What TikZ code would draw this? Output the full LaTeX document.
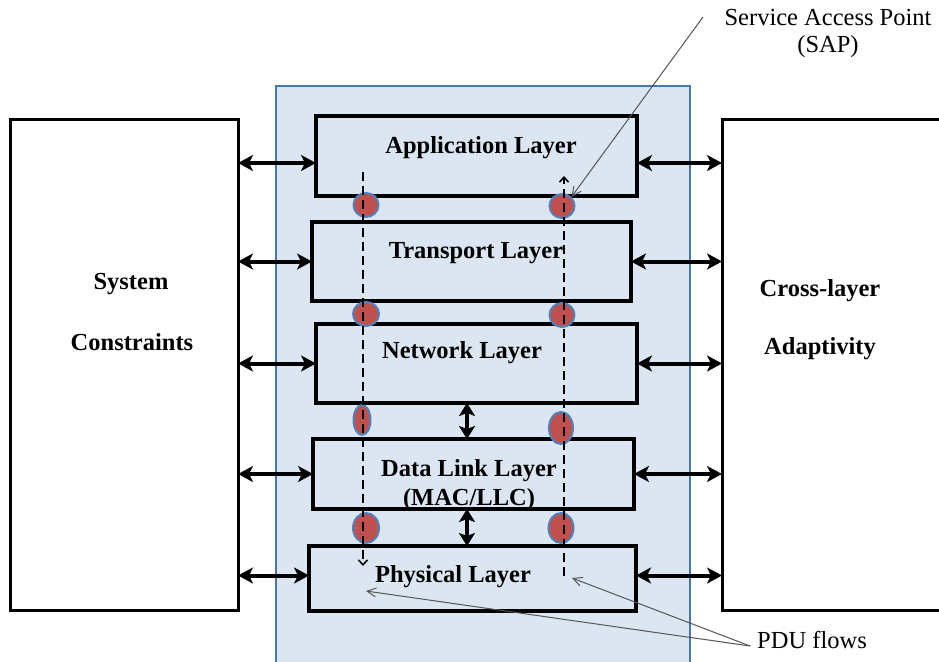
\documentclass[tikz,border=0pt]{standalone}
\usepackage{fontspec}
\setmainfont{Liberation Serif}
\usetikzlibrary{arrows.meta,shapes.geometric}
\definecolor{panelfill}{HTML}{DCE6F2}
\definecolor{panelline}{HTML}{4A76AE}
\definecolor{sapred}{HTML}{C0504D}
\definecolor{sapblue}{HTML}{4F81BD}
\definecolor{pointer}{HTML}{555555}
\begin{document}
\begin{tikzpicture}[x=1pt,y=-1pt,
  sidebox/.style={draw, line width=3pt, minimum width=228pt, minimum height=491pt, inner sep=0pt, outer sep=0pt},
  layerbox/.style={draw, line width=3.5pt, fill=panelfill, inner sep=0pt, outer sep=0pt},
  lbl/.style={font=\fontsize{24.5}{27}\selectfont, inner sep=0pt},
  blbl/.style={font=\bfseries\fontsize{24.5}{27}\selectfont, inner sep=0pt},
  sap/.style={ellipse, draw=sapblue, fill=sapred, line width=2pt, inner sep=0pt},
  hdbl/.style={line width=4pt, {Stealth[length=15pt,width=16pt,inset=4pt]}-{Stealth[length=15pt,width=16pt,inset=4pt]}},
  vdbl/.style={line width=4pt, {Stealth[length=13pt,width=16pt,inset=3pt]}-{Stealth[length=13pt,width=16pt,inset=3pt]}},
  flow/.style={dash pattern=on 9pt off 5pt, line width=1.3pt, -{Straight Barb[length=5pt,width=9pt,line width=1.5pt]}},
  note/.style={pointer, line width=1pt, -{Straight Barb[length=9pt,width=9pt]}}
]
\clip (0,0) rectangle (939,661);
\fill[white] (0,0) rectangle (939,661);

% side boxes
\node[sidebox] (sys) at (124,364.5) {};
\node[sidebox, minimum width=238pt] (cla) at (841,364.5) {};

% panel
\node[draw=panelline, fill=panelfill, line width=2pt, minimum width=414pt, minimum height=594pt, inner sep=0pt, outer sep=0pt] (panel) at (483,383) {};

% layers
\node[layerbox, minimum width=321pt, minimum height=80pt] (app) at (476.5,156) {};
\node[layerbox, minimum width=319pt, minimum height=79pt] (trn) at (471.5,261.5) {};
\node[layerbox, minimum width=321pt, minimum height=79pt] (net) at (476.5,363.5) {};
\node[layerbox, minimum width=321pt, minimum height=70pt] (dll) at (473.5,474) {};
\node[layerbox, minimum width=327pt, minimum height=65pt] (phy) at (472.5,578.5) {};

\node[blbl] (appt) at (481,148) {Application Layer};
\node[blbl] (trnt) at (476,253) {Transport Layer};
\node[blbl] (nett) at (462,353) {Network Layer};
\node[blbl] (dllt) at (469,471) {Data Link Layer};
\node[blbl] (dllt2) at (469,500) {(MAC/LLC)};
\node[blbl] (phyt) at (453,577) {Physical Layer};

% side labels
\node[blbl] (syst) at (131,284) {System};
\node[blbl] (syst2) at (132,342) {Constraints};
\node[blbl] (clat) at (820,291) {Cross-layer};
\node[blbl] (clat2) at (820,349) {Adaptivity};

% arrow attachment points
\coordinate (appW) at ([yshift=-7pt]app.west);
\coordinate (appE) at ([yshift=-7pt]app.east);
\coordinate (phyW) at ([yshift=3pt]phy.west);
\coordinate (phyE) at ([yshift=3pt]phy.east);

% horizontal double arrows
\draw[hdbl] (sys.east |- appW) -- (appW);
\draw[hdbl] (sys.east |- trn.west) -- (trn.west);
\draw[hdbl] (sys.east |- net.west) -- (net.west);
\draw[hdbl] (sys.east |- dll.west) -- (dll.west);
\draw[hdbl] (sys.east |- phyW) -- (phyW);

\draw[hdbl] (appE) -- (cla.west |- appE);
\draw[hdbl] (trn.east) -- (cla.west |- trn.east);
\draw[hdbl] (net.east) -- (cla.west |- net.east);
\draw[hdbl] (dll.east) -- (cla.west |- dll.east);
\draw[hdbl] (phyE) -- (cla.west |- phyE);

% vertical double arrows
\coordinate (vx) at (467,0);
\draw[vdbl] (vx |- net.south) -- (vx |- dll.north);
\draw[vdbl] (vx |- dll.south) -- (vx |- phy.north);

% SAPs
\node[sap, minimum width=25pt, minimum height=24pt] (sL1) at (366,205) {};
\node[sap, minimum width=25pt, minimum height=24pt] (sR1) at (562,206) {};
\node[sap, minimum width=26pt, minimum height=24pt] (sL2) at (366,314) {};
\node[sap, minimum width=25pt, minimum height=24pt] (sR2) at (562,315) {};
\node[sap, minimum width=17pt, minimum height=30pt] (sL3) at (362,420) {};
\node[sap, minimum width=24pt, minimum height=32pt] (sR3) at (561,428) {};
\node[sap, minimum width=26pt, minimum height=30pt] (sL4) at (366,528) {};
\node[sap, minimum width=25pt, minimum height=30pt] (sR4) at (561,528) {};

% PDU flows (dashed)
\coordinate (dlTop) at (363,172);
\coordinate (dlBot) at (363,566);
\coordinate (drBot) at (564,576);
\coordinate (drTop) at (564,176);
\draw[flow] (dlTop) -- (dlBot);
\draw[flow] (drBot) -- (drTop);

% SAP annotation
\node[lbl, align=center] (saplbl) at (828,33) {Service Access Point\\(SAP)};
\coordinate (sapstart) at (703,17);
\draw[note] (sapstart) -- (sR1.north east);

% PDU annotation
\node[lbl] (pdu) at (812,640) {PDU flows};
\coordinate (pduend) at (750,646);
\coordinate (pduR) at (572,578);
\coordinate (pduL) at (366,591);
\draw[note] (pduend) -- (pduR);
\draw[note] (pduend) -- (pduL);
\end{tikzpicture}
\end{document}
